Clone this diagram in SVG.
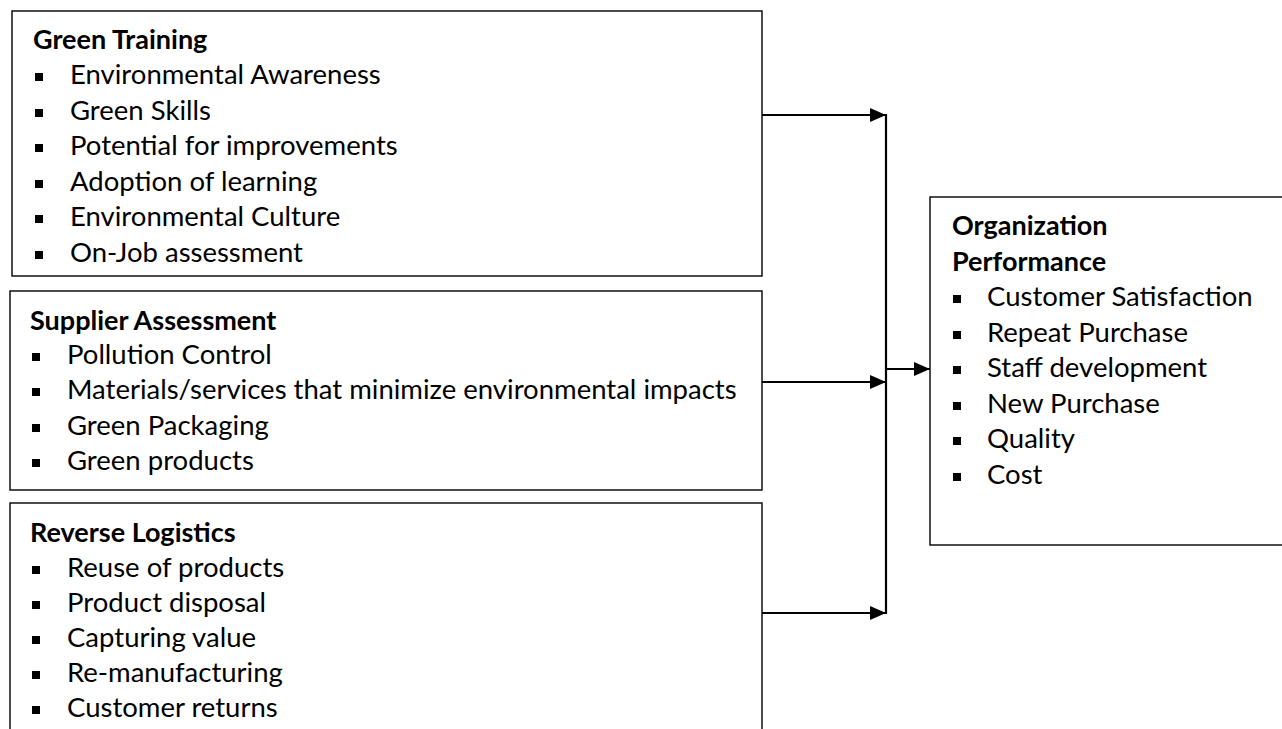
<svg xmlns="http://www.w3.org/2000/svg" width="1282" height="729" viewBox="0 0 1282 729">
<style>
.box{fill:#fff;stroke:#000;stroke-width:1.4}
.h{font-family:Lato,"Liberation Sans",sans-serif;font-weight:bold;font-size:27px;fill:#000}
.t{font-family:Lato,"Liberation Sans",sans-serif;font-size:27.5px;fill:#000}
.b{fill:#000}
.c{stroke:#000;stroke-width:2.2;fill:none}
</style>
<defs>
<marker id="ah" markerUnits="userSpaceOnUse" markerWidth="18" markerHeight="14" refX="16" refY="7" orient="auto">
<path d="M0,0 L16,7 L0,14 Z" fill="#000"/>
</marker>
</defs>
<g id="green-training">
<rect class="box" x="12" y="11" width="750" height="265"/>
<text class="h" x="33" y="49">Green Training</text>
<rect class="b" x="35" y="73" width="8" height="8"/><text class="t" x="70" y="84">Environmental Awareness</text>
<rect class="b" x="35" y="109" width="8" height="8"/><text class="t" x="70" y="120">Green Skills</text>
<rect class="b" x="35" y="144" width="8" height="8"/><text class="t" x="70" y="155">Potential for improvements</text>
<rect class="b" x="35" y="180" width="8" height="8"/><text class="t" x="70" y="191">Adoption of learning</text>
<rect class="b" x="35" y="215" width="8" height="8"/><text class="t" x="70" y="226">Environmental Culture</text>
<rect class="b" x="35" y="251" width="8" height="8"/><text class="t" x="70" y="262">On-Job assessment</text>
</g>
<g id="supplier-assessment">
<rect class="box" x="10" y="291" width="752" height="199"/>
<text class="h" x="30" y="330">Supplier Assessment</text>
<rect class="b" x="32" y="353" width="8" height="8"/><text class="t" x="67" y="364">Pollution Control</text>
<rect class="b" x="32" y="388" width="8" height="8"/><text class="t" x="67" y="399">Materials/services that minimize environmental impacts</text>
<rect class="b" x="32" y="424" width="8" height="8"/><text class="t" x="67" y="435">Green Packaging</text>
<rect class="b" x="32" y="459" width="8" height="8"/><text class="t" x="67" y="470">Green products</text>
</g>
<g id="reverse-logistics">
<rect class="box" x="10" y="503" width="752" height="240"/>
<text class="h" x="30" y="542">Reverse Logistics</text>
<rect class="b" x="32" y="566" width="8" height="8"/><text class="t" x="67" y="577">Reuse of products</text>
<rect class="b" x="32" y="601" width="8" height="8"/><text class="t" x="67" y="612">Product disposal</text>
<rect class="b" x="32" y="636" width="8" height="8"/><text class="t" x="67" y="647">Capturing value</text>
<rect class="b" x="32" y="671" width="8" height="8"/><text class="t" x="67" y="682">Re-manufacturing</text>
<rect class="b" x="32" y="706" width="8" height="8"/><text class="t" x="67" y="717">Customer returns</text>
</g>
<g id="organization-performance">
<rect class="box" x="930" y="197" width="360" height="348"/>
<text class="h" x="952" y="235">Organization</text>
<text class="h" x="952" y="271">Performance</text>
<rect class="b" x="953" y="295" width="8" height="8"/><text class="t" x="987" y="306">Customer Satisfaction</text>
<rect class="b" x="953" y="331" width="8" height="8"/><text class="t" x="987" y="342">Repeat Purchase</text>
<rect class="b" x="953" y="366" width="8" height="8"/><text class="t" x="987" y="377">Staff development</text>
<rect class="b" x="953" y="402" width="8" height="8"/><text class="t" x="987" y="413">New Purchase</text>
<rect class="b" x="953" y="437" width="8" height="8"/><text class="t" x="987" y="448">Quality</text>
<rect class="b" x="953" y="473" width="8" height="8"/><text class="t" x="987" y="484">Cost</text>
</g>
<g id="connectors">
<line class="c" x1="762" y1="115" x2="886" y2="115" marker-end="url(#ah)"/>
<line class="c" x1="762" y1="382" x2="886" y2="382" marker-end="url(#ah)"/>
<line class="c" x1="762" y1="613" x2="886" y2="613" marker-end="url(#ah)"/>
<line class="c" x1="886" y1="114" x2="886" y2="614"/>
<line class="c" x1="886" y1="369" x2="930" y2="369" marker-end="url(#ah)"/>
</g>
</svg>
